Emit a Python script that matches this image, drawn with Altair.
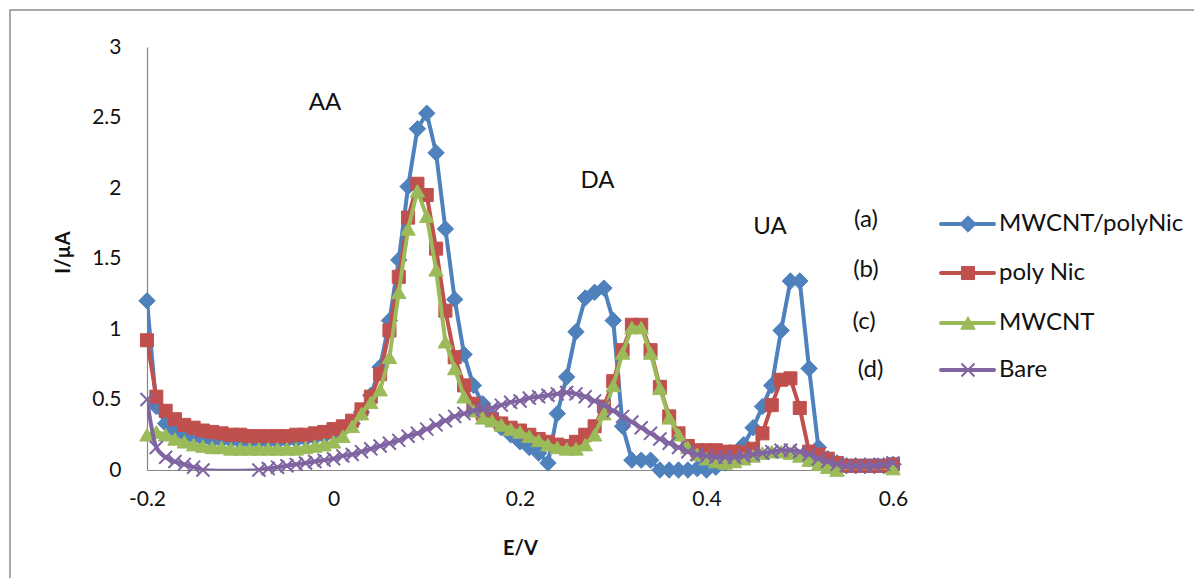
import altair as alt
import pandas as pd

# Potential sweep (V)
E = [-0.20, -0.19, -0.18, -0.17, -0.16, -0.15, -0.14, -0.13, -0.12, -0.11,
     -0.10, -0.09, -0.08, -0.07, -0.06, -0.05, -0.04, -0.03, -0.02, -0.01,
     0.00, 0.01, 0.02, 0.03, 0.04, 0.05, 0.06, 0.07, 0.08, 0.09,
     0.10, 0.11, 0.12, 0.13, 0.14, 0.15, 0.16, 0.17, 0.18, 0.19,
     0.20, 0.21, 0.22, 0.23, 0.24, 0.25, 0.26, 0.27, 0.28, 0.29,
     0.30, 0.31, 0.32, 0.33, 0.34, 0.35, 0.36, 0.37, 0.38, 0.39,
     0.40, 0.41, 0.42, 0.43, 0.44, 0.45, 0.46, 0.47, 0.48, 0.49,
     0.50, 0.51, 0.52, 0.53, 0.54, 0.55, 0.56, 0.57, 0.58, 0.59,
     0.60]

# Current (uA) for each electrode
mwcnt_polynic = [1.20, 0.45, 0.33, 0.28, 0.25, 0.23, 0.22, 0.21, 0.21, 0.21,
                 0.20, 0.20, 0.20, 0.20, 0.20, 0.21, 0.21, 0.22, 0.23, 0.24,
                 0.26, 0.29, 0.33, 0.41, 0.53, 0.73, 1.06, 1.49, 2.01, 2.42,
                 2.53, 2.25, 1.71, 1.21, 0.82, 0.60, 0.47, 0.37, 0.30, 0.25,
                 0.20, 0.16, 0.12, 0.05, 0.40, 0.66, 0.98, 1.22, 1.26, 1.29,
                 1.06, 0.31, 0.07, 0.07, 0.07, 0.00, 0.00, 0.00, 0.00, 0.01,
                 0.00, 0.02, 0.05, 0.10, 0.18, 0.30, 0.45, 0.60, 0.99, 1.34,
                 1.34, 0.72, 0.16, 0.08, 0.05, 0.03, 0.03, 0.03, 0.03, 0.03,
                 0.04]
poly_nic = [0.92, 0.52, 0.42, 0.36, 0.32, 0.30, 0.28, 0.27, 0.26, 0.25,
            0.25, 0.24, 0.24, 0.24, 0.24, 0.24, 0.25, 0.25, 0.26, 0.27,
            0.29, 0.31, 0.35, 0.43, 0.52, 0.68, 0.99, 1.37, 1.79, 2.03,
            1.95, 1.57, 1.13, 0.80, 0.60, 0.47, 0.40, 0.36, 0.33, 0.30,
            0.28, 0.25, 0.22, 0.20, 0.18, 0.17, 0.20, 0.25, 0.31, 0.45,
            0.63, 0.85, 1.03, 1.03, 0.85, 0.59, 0.38, 0.26, 0.17, 0.14,
            0.14, 0.14, 0.13, 0.13, 0.12, 0.15, 0.26, 0.46, 0.64, 0.65,
            0.44, 0.13, 0.11, 0.08, 0.05, 0.03, 0.03, 0.03, 0.03, 0.03,
            0.04]
mwcnt = [0.25, 0.27, 0.25, 0.22, 0.20, 0.18, 0.17, 0.16, 0.16, 0.15,
         0.15, 0.15, 0.15, 0.15, 0.15, 0.15, 0.15, 0.16, 0.17, 0.18,
         0.20, 0.24, 0.31, 0.40, 0.48, 0.57, 0.80, 1.26, 1.71, 1.98,
         1.80, 1.42, 0.91, 0.72, 0.52, 0.42, 0.37, 0.35, 0.32, 0.29,
         0.27, 0.24, 0.21, 0.18, 0.16, 0.15, 0.15, 0.18, 0.25, 0.40,
         0.60, 0.83, 1.01, 1.01, 0.83, 0.58, 0.37, 0.25, 0.16, 0.11,
         0.08, 0.06, 0.05, 0.06, 0.08, 0.10, 0.12, 0.13, 0.13, 0.12,
         0.10, 0.07, 0.04, 0.02, 0.00, -0.01, -0.01, -0.01, -0.01, -0.01,
         0.01]
bare = [0.50, 0.16, 0.09, 0.06, 0.04, 0.02, 0.00, -0.004, -0.006, -0.006,
        -0.006, -0.004, 0.00, 0.01, 0.02, 0.03, 0.04, 0.05, 0.06, 0.07,
        0.08, 0.10, 0.11, 0.13, 0.15, 0.17, 0.19, 0.21, 0.24, 0.26,
        0.29, 0.32, 0.35, 0.38, 0.40, 0.42, 0.43, 0.44, 0.46, 0.48,
        0.49, 0.51, 0.52, 0.53, 0.54, 0.55, 0.54, 0.52, 0.49, 0.46,
        0.42, 0.38, 0.34, 0.30, 0.26, 0.22, 0.19, 0.16, 0.13, 0.11,
        0.10, 0.09, 0.09, 0.09, 0.10, 0.11, 0.12, 0.13, 0.14, 0.14,
        0.13, 0.11, 0.08, 0.06, 0.04, 0.03, 0.03, 0.03, 0.03, 0.04,
        0.05]

series_names = ["MWCNT/polyNic", "poly Nic", "MWCNT", "Bare"]
series_values = [mwcnt_polynic, poly_nic, mwcnt, bare]
series_colors = ["#4F81BD", "#C0504D", "#9BBB59", "#8064A2"]
series_shapes = ["diamond", "square", "triangle-up", "M-1,-1L1,1M-1,1L1,-1"]
series_sizes = [270, 170, 210, 170]
series_interp = ["linear", "linear", "linear", "monotone"]

# Peak and curve annotations (data coordinates)
note_text = ["AA", "DA", "UA", "(a)", "(b)", "(c)", "(d)"]
note_x = [-0.009, 0.283, 0.468, 0.571, 0.571, 0.569, 0.576]
note_y = [2.60, 2.05, 1.72, 1.77, 1.42, 1.05, 0.71]

FONT = "Lato"
TEXT = "#111111"
AXIS_GREY = "#868686"

x_scale = alt.Scale(domain=[-0.2, 0.6], nice=False, zero=False)
y_scale = alt.Scale(domain=[0, 3], nice=False, zero=False)

x_axis = alt.Axis(values=[-0.2, 0, 0.2, 0.4, 0.6], labelExpr="toString(datum.value)",
                  labelFlush=False, labelOverlap=False,
                  title="E/V", titleX=373, titleY=78, titleBaseline="middle",
                  titleAlign="center", labelPadding=18)
y_axis = alt.Axis(values=[0, 0.5, 1, 1.5, 2, 2.5, 3], labelExpr="toString(datum.value)",
                  labelFlush=False, labelOverlap=False,
                  title="I/\u00b5A", titleX=-84, titleY=205, titleBaseline="middle",
                  titleAlign="center", titleAngle=270, labelPadding=26)

layers = []
for name, vals, col, shp, sz, interp in zip(series_names, series_values, series_colors,
                                             series_shapes, series_sizes, series_interp):
    df = pd.DataFrame({"E": E, "I": vals, "series": name})
    base = alt.Chart(df)
    line = base.mark_line(color=col, strokeWidth=4, clip=True, interpolate=interp).encode(
        x=alt.X("E:Q", scale=x_scale, axis=x_axis),
        y=alt.Y("I:Q", scale=y_scale, axis=y_axis),
    )
    is_cross = shp == series_shapes[3]
    # markers below the axis minimum are not drawn
    pts = base.transform_filter("datum.I >= 0").mark_point(
        shape=shp, size=sz, filled=not is_cross, color=col,
        stroke=col, strokeWidth=(2 if is_cross else 1), opacity=1
    ).encode(x="E:Q", y="I:Q")
    layers += [line, pts]

notes_df = pd.DataFrame({"E": note_x, "I": note_y, "label": note_text})
notes = alt.Chart(notes_df).mark_text(font=FONT, fontSize=24, color=TEXT).encode(
    x="E:Q", y="I:Q", text="label:N")
layers.append(notes)

# Legend: line sample with marker and series name
legend_rows = [177, 226, 276, 323]
for name, col, shp, sz, ly in zip(series_names, series_colors, series_shapes,
                                   series_sizes, legend_rows):
    is_cross = shp == series_shapes[3]
    ldf = pd.DataFrame({"label": [name]})
    lb = alt.Chart(ldf)
    layers.append(lb.mark_rule(color=col, strokeWidth=4, strokeCap="round").encode(
        x=alt.value(794), x2=alt.value(847), y=alt.value(ly)))
    layers.append(lb.mark_point(shape=shp, size=sz, filled=not is_cross,
                                color=col, stroke=col,
                                strokeWidth=(2 if is_cross else 1),
                                opacity=1).encode(
        x=alt.value(821), y=alt.value(ly)))
    layers.append(lb.mark_text(font=FONT, fontSize=24, color=TEXT, align="left",
                               baseline="middle").encode(
        x=alt.value(852), y=alt.value(ly), text="label:N"))

# Outer frame
frame = alt.Chart(pd.DataFrame({"k": [0]})).mark_rect(
    fillOpacity=0, stroke="#8c8c8c", strokeWidth=1.5).encode(
    x=alt.value(-137), x2=alt.value(1100), y=alt.value(-37), y2=alt.value(600))
layers.append(frame)

chart = alt.layer(*layers).properties(
    width=746, height=423,
    autosize=alt.AutoSizeParams(type="none"),
    padding={"left": 147, "top": 47, "right": 301, "bottom": 108},
    background="white",
).configure_view(strokeWidth=0).configure_axis(
    grid=False, ticks=False, tickSize=0, domainColor=AXIS_GREY, domainWidth=1.2,
    labelFont=FONT, labelFontSize=21, labelColor=TEXT,
    titleFont=FONT, titleFontSize=20, titleFontWeight="bold", titleColor=TEXT,
)

chart.save("out.html", embed_options={"renderer": "svg", "actions": False})
